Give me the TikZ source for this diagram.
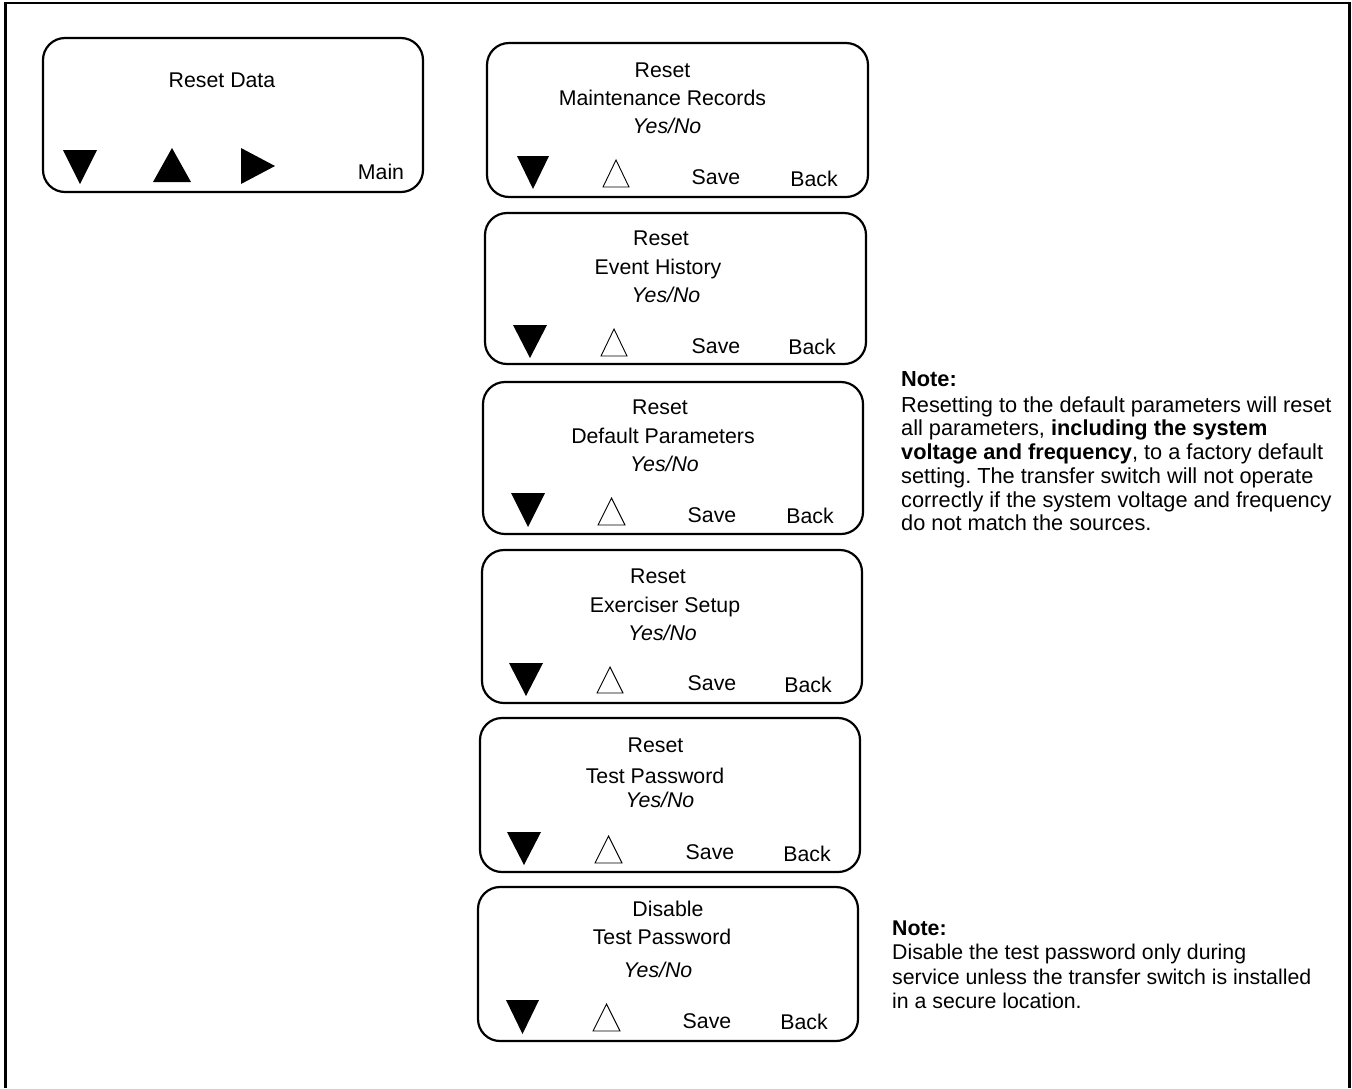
\documentclass[tikz,border=0pt]{standalone}
\usepackage{fontspec}
\setmainfont{Liberation Sans}
\frenchspacing
\begin{document}
\begin{tikzpicture}[x=1pt,y=-1pt,
  frameline/.style={line width=2.4pt},
  screen/.style={line width=2.2pt, rounded corners=22pt},
  txt/.style={inner sep=0pt, text height=15.2pt, text depth=0pt,
              font=\fontsize{21.3}{24}\selectfont},
  yn/.style={txt, font=\fontsize{21.3}{24}\selectfont\itshape},
  notetxt/.style={txt, anchor=west},
  bignote/.style={notetxt, font=\fontsize{21.75}{24}\selectfont},
  solidtri/.style={fill=black, draw=none},
  opentri/.style={draw=black, line width=0.9pt, line join=miter}]
\useasboundingbox (0,0) rectangle (1352,1088);

% outer frame, open at the bottom
\draw[frameline] (5.5,1088) -- (5.5,3) -- (1349.5,3) -- (1349.5,1088);

% main "Reset Data" screen
\draw[screen] (43,38) rectangle (423,192);
\node[txt] (rd) at (222,80) {Reset Data};
\fill[solidtri] (63,150) -- (97,150) -- (80,184) -- cycle;
\fill[solidtri] (153,182) -- (191,182) -- (172,148) -- cycle;
\fill[solidtri] (241,148) -- (241,184) -- (275,166) -- cycle;
\node[txt] (rdmain) at (381,172) {Main};

% screen 1: maintenance records
\draw[screen] (487,43) rectangle (868,197);
\node[txt] (s1a) at (662.5,70) {Reset};
\node[txt] (s1b) at (662.5,98) {Maintenance Records};
\node[yn]  (s1c) at (667,126) {Yes/No};
\fill[solidtri] (517,156) -- (549,156) -- (533,189) -- cycle;
\draw[opentri] (603,187) -- (629,187) -- (616,160) -- cycle;
\node[txt] (s1s) at (716,177) {Save};
\node[txt] (s1k) at (814,179) {Back};

% screen 2: event history
\draw[screen] (485,213) rectangle (866,364);
\node[txt] (s2a) at (661,238) {Reset};
\node[txt] (s2b) at (658,267) {Event History};
\node[yn]  (s2c) at (666,295) {Yes/No};
\fill[solidtri] (513,325) -- (547,325) -- (530,358) -- cycle;
\draw[opentri] (601,356) -- (627,356) -- (614,329) -- cycle;
\node[txt] (s2s) at (716,346) {Save};
\node[txt] (s2k) at (812,347) {Back};

% screen 3: default parameters
\draw[screen] (483,382) rectangle (863,534);
\node[txt] (s3a) at (660,407) {Reset};
\node[txt] (s3b) at (663,436) {Default Parameters};
\node[yn]  (s3c) at (664.5,464) {Yes/No};
\fill[solidtri] (511,493) -- (545,493) -- (528,527) -- cycle;
\draw[opentri] (598,525) -- (625,525) -- (611.5,498) -- cycle;
\node[txt] (s3s) at (712,515) {Save};
\node[txt] (s3k) at (810,516) {Back};

% screen 4: exerciser setup
\draw[screen] (482,550) rectangle (862,703);
\node[txt] (s4a) at (658,576) {Reset};
\node[txt] (s4b) at (665,605) {Exerciser Setup};
\node[yn]  (s4c) at (662.5,633) {Yes/No};
\fill[solidtri] (509,663) -- (543,663) -- (526,696) -- cycle;
\draw[opentri] (597,693) -- (623,693) -- (610,667) -- cycle;
\node[txt] (s4s) at (712,683) {Save};
\node[txt] (s4k) at (808,685) {Back};

% screen 5: reset test password
\draw[screen] (480,718) rectangle (860,872);
\node[txt] (s5a) at (655.5,745) {Reset};
\node[txt] (s5b) at (655,776) {Test Password};
\node[yn]  (s5c) at (660,800) {Yes/No};
\fill[solidtri] (507,832) -- (541,832) -- (524,865) -- cycle;
\draw[opentri] (595,863) -- (622,863) -- (608.5,836) -- cycle;
\node[txt] (s5s) at (710,852) {Save};
\node[txt] (s5k) at (807,854) {Back};

% screen 6: disable test password
\draw[screen] (478,887) rectangle (858,1041);
\node[txt] (s6a) at (668,909) {Disable};
\node[txt] (s6b) at (662,937) {Test Password};
\node[yn]  (s6c) at (658,970) {Yes/No};
\fill[solidtri] (506,1000) -- (539,1000) -- (522.5,1034) -- cycle;
\draw[opentri] (593,1031) -- (620,1031) -- (606.5,1004) -- cycle;
\node[txt] (s6s) at (707,1021) {Save};
\node[txt] (s6k) at (804,1022) {Back};

% note on default parameters
\node[bignote] (n1h) at (901,379) {\bfseries Note:};
\node[bignote] (n1a) at (901,405) {Resetting to the default parameters will reset};
\node[bignote] (n1b) at (901,428) {all parameters, \textbf{including the system}};
\node[bignote] (n1c) at (901,452) {\textbf{voltage and frequency}, to a factory default};
\node[bignote] (n1d) at (901,476) {setting. The transfer switch will not operate};
\node[bignote] (n1e) at (901,500) {correctly if the system voltage and frequency};
\node[bignote] (n1f) at (901,523) {do not match the sources.};

% note on the test password
\node[notetxt] (n2h) at (892,928) {\bfseries Note:};
\node[notetxt] (n2a) at (892,952) {Disable the test password only during};
\node[notetxt] (n2b) at (892,977) {service unless the transfer switch is installed};
\node[notetxt] (n2c) at (892,1001) {in a secure location.};
\end{tikzpicture}
\end{document}
